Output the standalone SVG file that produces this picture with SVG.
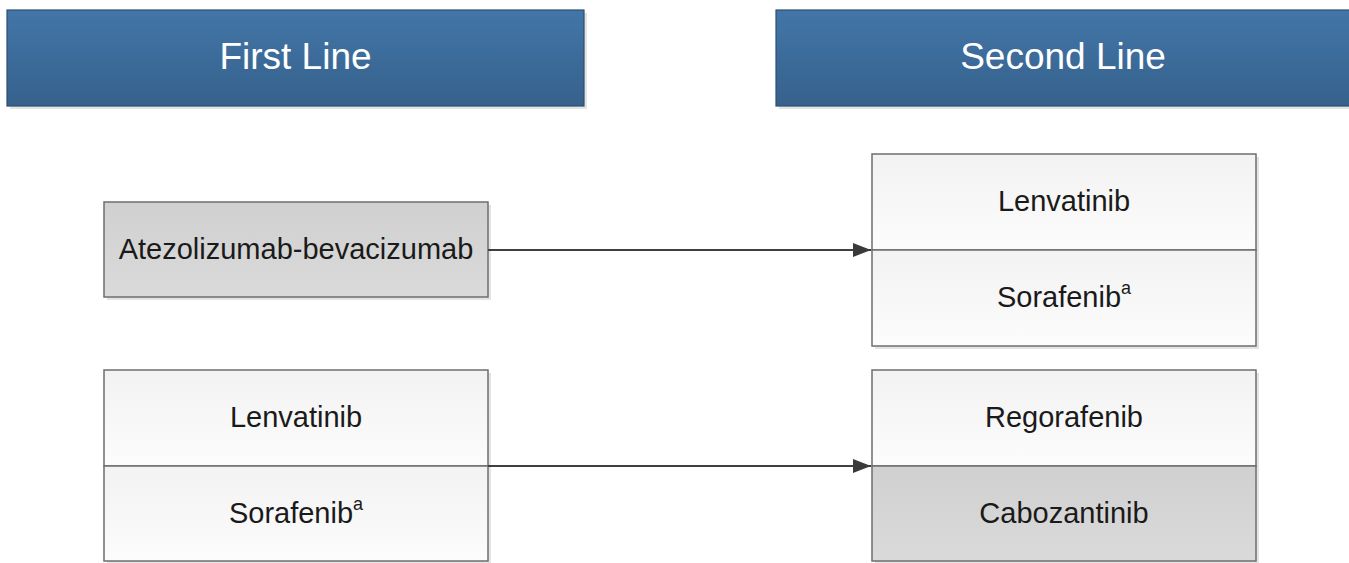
<svg xmlns="http://www.w3.org/2000/svg" width="1349" height="563" viewBox="0 0 1349 563">
<defs>
<linearGradient id="hdr" x1="0" y1="0" x2="0" y2="1">
<stop offset="0" stop-color="#4276a8"/>
<stop offset="1" stop-color="#36618c"/>
</linearGradient>
<linearGradient id="light" x1="0" y1="0" x2="0" y2="1">
<stop offset="0" stop-color="#f2f2f2"/>
<stop offset="1" stop-color="#fcfcfc"/>
</linearGradient>
<linearGradient id="dark" x1="0" y1="0" x2="0" y2="1">
<stop offset="0" stop-color="#d0d0d0"/>
<stop offset="1" stop-color="#dadada"/>
</linearGradient>
<marker id="arr" viewBox="0 0 18 14" refX="18" refY="7" markerWidth="18" markerHeight="14" markerUnits="userSpaceOnUse" orient="auto">
<path d="M0,0 L18,7 L0,14 Z" fill="#3a3a3a"/>
</marker>
</defs>
<style>
.shadow{fill:#e4e4e4}
.hdr{fill:url(#hdr);stroke:#2e4e6e;stroke-width:1.2}
.box{stroke:#6e6e6e;stroke-width:1.5}
.light{fill:url(#light)}
.dark{fill:url(#dark)}
.ht{font-family:"Liberation Sans",Arial,sans-serif;font-size:37px;fill:#ffffff;text-anchor:middle}
.t{font-family:"Liberation Sans",Arial,sans-serif;font-size:29px;fill:#1a1a1a;text-anchor:middle}
.sup{font-size:18px}
.conn{stroke:#3f3f3f;stroke-width:2.2;fill:none}
</style>
<rect width="1349" height="563" fill="#ffffff"/>
<g id="header-first">
<rect class="shadow" x="10" y="13" width="577" height="96"/>
<rect class="hdr" x="7" y="10" width="577" height="96"/>
<text class="ht" x="295.5" y="69">First Line</text>
</g>
<g id="header-second">
<rect class="shadow" x="779" y="13" width="577" height="96"/>
<rect class="hdr" x="776" y="10" width="580" height="96"/>
<text class="ht" x="1063" y="69">Second Line</text>
</g>
<g id="atezo">
<rect class="shadow" x="107" y="205" width="384" height="95"/>
<rect class="box dark" x="104" y="202" width="384" height="95"/>
<text class="t" x="296" y="259">Atezolizumab-bevacizumab</text>
</g>
<g id="second-top">
<rect class="shadow" x="875" y="157" width="384" height="192"/>
<rect class="box light" x="872" y="154" width="384" height="96"/>
<rect class="box light" x="872" y="250" width="384" height="96"/>
<text class="t" x="1064" y="211">Lenvatinib</text>
<text class="t" x="1064" y="307">Sorafenib<tspan class="sup" dy="-13">a</tspan></text>
</g>
<g id="first-bottom">
<rect class="shadow" x="107" y="373" width="384" height="191"/>
<rect class="box light" x="104" y="370" width="384" height="96"/>
<rect class="box light" x="104" y="466" width="384" height="95"/>
<text class="t" x="296" y="427">Lenvatinib</text>
<text class="t" x="296" y="523">Sorafenib<tspan class="sup" dy="-13">a</tspan></text>
</g>
<g id="second-bottom">
<rect class="shadow" x="875" y="373" width="384" height="191"/>
<rect class="box light" x="872" y="370" width="384" height="96"/>
<rect class="box dark" x="872" y="466" width="384" height="95"/>
<text class="t" x="1064" y="427">Regorafenib</text>
<text class="t" x="1064" y="523">Cabozantinib</text>
</g>
<g id="connectors">
<line class="conn" x1="488" y1="250" x2="871" y2="250" marker-end="url(#arr)"/>
<line class="conn" x1="488" y1="466" x2="871" y2="466" marker-end="url(#arr)"/>
</g>
</svg>
